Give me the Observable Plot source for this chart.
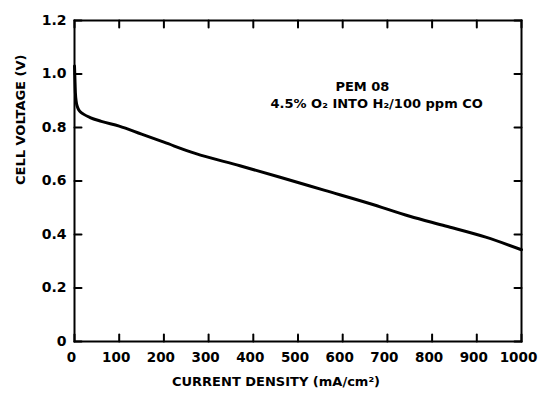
<!DOCTYPE html>
<html>
<head>
<meta charset="utf-8">
<script src="https://cdn.jsdelivr.net/npm/d3@7"></script>
<script src="https://cdn.jsdelivr.net/npm/@observablehq/plot@0.6"></script>
<style>
  html, body { margin: 0; padding: 0; background: #fff; }
</style>
</head>
<body>
<div id="chart"></div>
<script>
// Polarization curve data
const currentDensity = [0, 1, 2, 4, 7, 12, 20, 35, 60, 100, 150, 200, 270, 370, 460, 560, 660, 750, 830, 920, 1000];
const cellVoltage    = [1.03, 0.98, 0.93, 0.895, 0.875, 0.86, 0.85, 0.837, 0.823, 0.805, 0.775, 0.745, 0.703, 0.657, 0.614, 0.565, 0.516, 0.468, 0.432, 0.39, 0.343];

const xTicks = [0, 100, 200, 300, 400, 500, 600, 700, 800, 900, 1000];
const yTicks = [0, 0.2, 0.4, 0.6, 0.8, 1.0, 1.2];
const xTickLabels = ["0", "100", "200", "300", "400", "500", "600", "700", "800", "900", "1000"];
const yTickLabels = ["0", "0.2", "0.4", "0.6", "0.8", "1.0", "1.2"];

const xTitle = "CURRENT DENSITY (mA/cm²)";
const yTitle = "CELL VOLTAGE (V)";
const noteLines = ["PEM 08", "4.5% O₂ INTO H₂/100 ppm CO"];
const noteX = [644, 676];
const noteY = [0.952, 0.888];

const W = 539, H = 398, ML = 74, MR = 18, MT = 20, MB = 57;
const innerW = W - ML - MR, innerH = H - MT - MB;
const xDomain = [0, 1000], yDomain = [0, 1.2];
// inward tick length: pixels converted to data units
const tickPx = 7;
const tx = tickPx / innerW * (xDomain[1] - xDomain[0]);
const ty = tickPx / innerH * (yDomain[1] - yDomain[0]);

const data = currentDensity.map((x, i) => ({x, v: cellVoltage[i]}));
const notes = noteLines.map((t, i) => ({t, x: noteX[i], y: noteY[i]}));

// tick segments as two-point paths, one path per tick
const tickSegs = [];
xTicks.forEach((x, i) => {
  tickSegs.push({k: "b" + i, x, y: yDomain[0]}, {k: "b" + i, x, y: yDomain[0] + ty});
  tickSegs.push({k: "t" + i, x, y: yDomain[1]}, {k: "t" + i, x, y: yDomain[1] - ty});
});
yTicks.forEach((y, i) => {
  tickSegs.push({k: "l" + i, x: xDomain[0], y}, {k: "l" + i, x: xDomain[0] + tx, y});
  tickSegs.push({k: "r" + i, x: xDomain[1], y}, {k: "r" + i, x: xDomain[1] - tx, y});
});

const chart = Plot.plot({
  width: W,
  height: H,
  marginLeft: ML,
  marginRight: MR,
  marginTop: MT,
  marginBottom: MB,
  style: {fontFamily: "DejaVu Sans", fontWeight: "bold", fontSize: "14px", color: "#000", background: "#fff"},
  x: {domain: xDomain},
  y: {domain: yDomain},
  marks: [
    Plot.frame({stroke: "#000", strokeWidth: 2}),
    // tick labels
    Plot.axisX(xTicks, {anchor: "bottom", tickSize: 0, tickPadding: 11, label: null, fontSize: 13.5, fontWeight: "bold", dx: -3,
      tickFormat: d => xTickLabels[xTicks.indexOf(d)]}),
    Plot.axisY(yTicks, {anchor: "left", tickSize: 0, tickPadding: 8, label: null, fontSize: 14, fontWeight: "bold",
      tickFormat: d => yTickLabels[yTicks.indexOf(d)]}),
    // inward ticks on all four sides
    Plot.line(tickSegs, {x: "x", y: "y", z: "k", stroke: "#000", strokeWidth: 2}),
    // curve
    Plot.line(data, {x: "x", y: "v", curve: "monotone-x", stroke: "#000", strokeWidth: 3}),
    // annotation
    Plot.text(notes, {x: "x", y: "y", text: "t", fontSize: 13, fontWeight: "bold", fill: "#000"}),
    // axis titles
    Plot.text([xTitle], {frameAnchor: "bottom", dy: 44, dx: -22, fontSize: 13, fontWeight: "bold", fill: "#000"}),
    Plot.text([yTitle], {frameAnchor: "left", rotate: -90, dx: -54, dy: 4, fontSize: 13, fontWeight: "bold", fill: "#000"})
  ]
});
document.getElementById("chart").appendChild(chart);
</script>
</body>
</html>
